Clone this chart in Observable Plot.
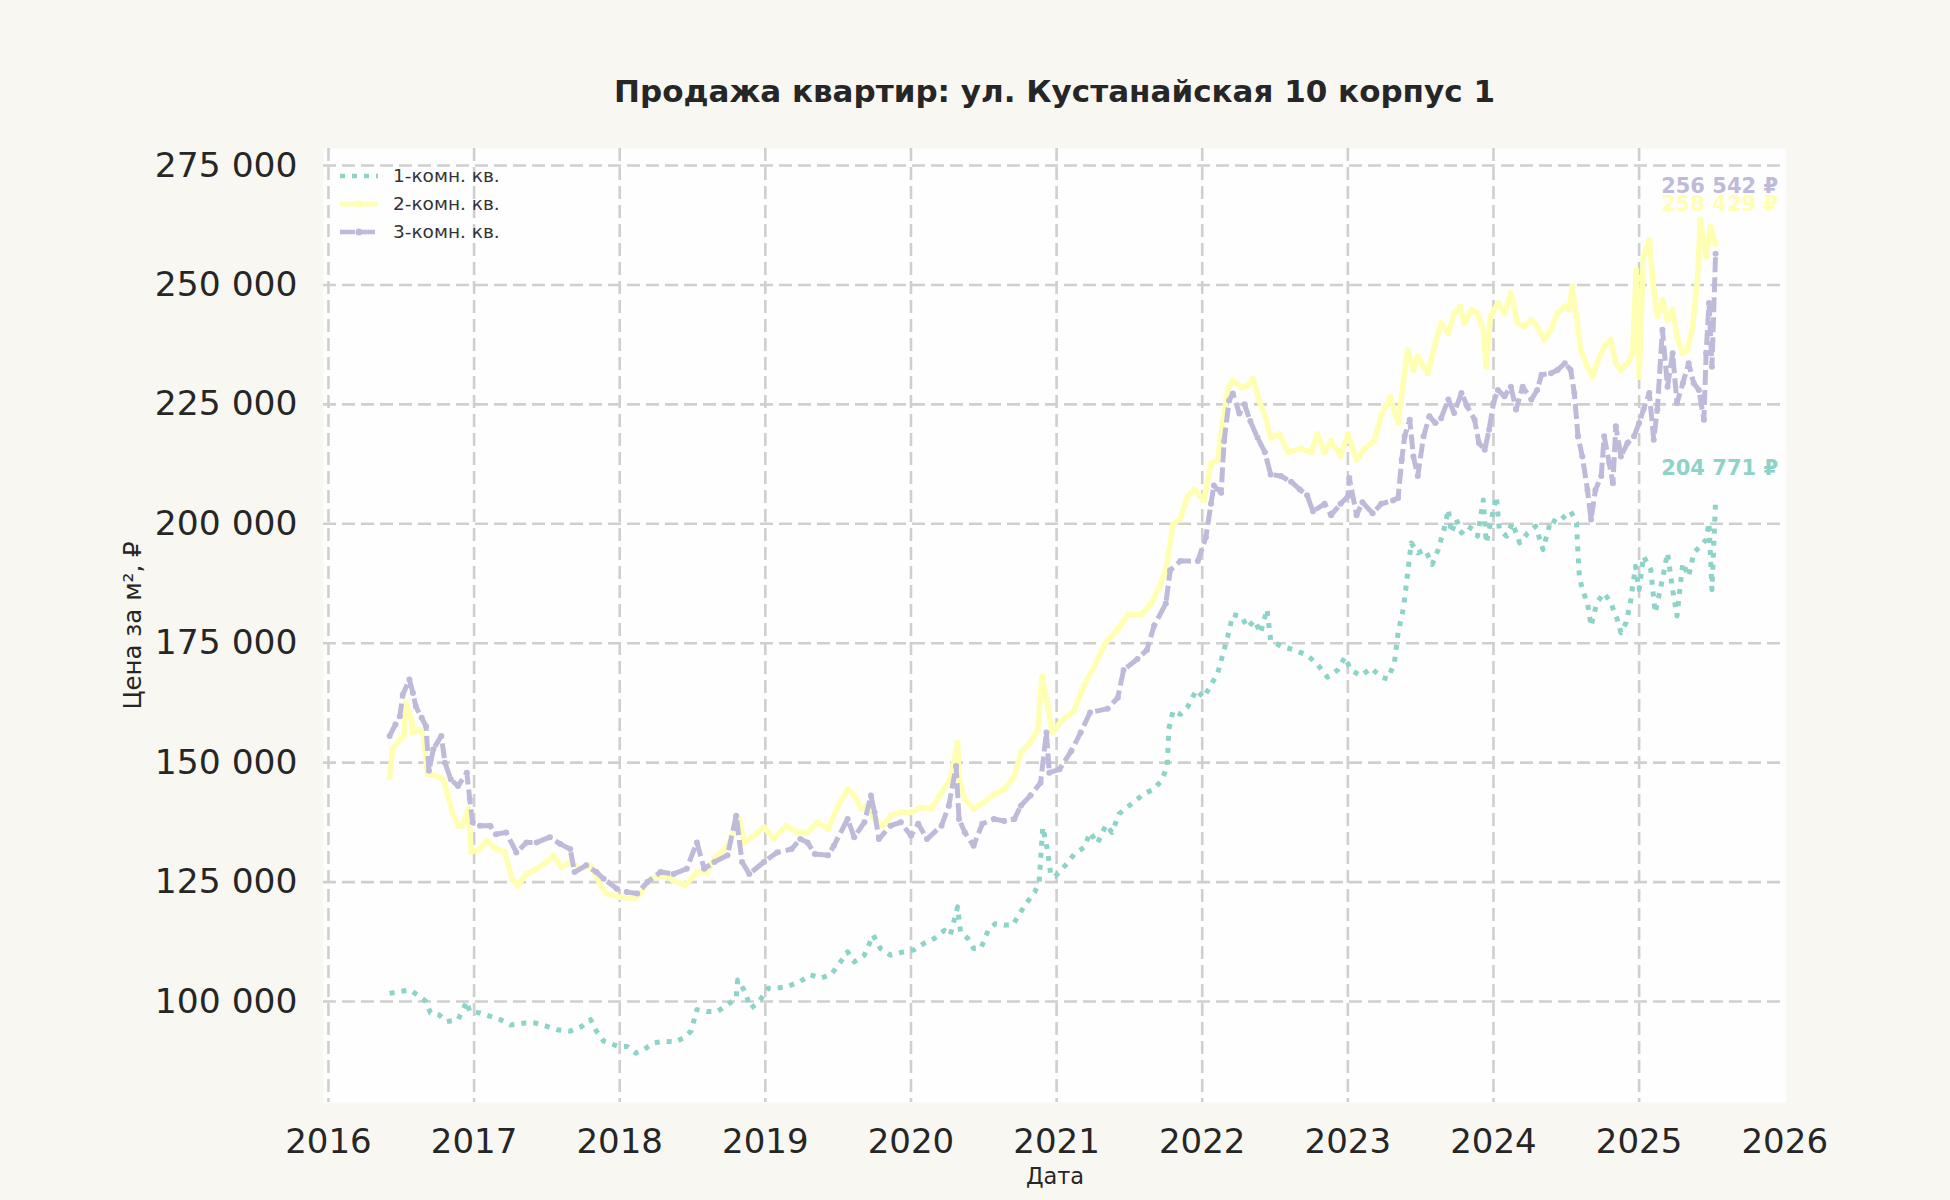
<!DOCTYPE html>
<html>
<head>
<meta charset="utf-8">
<script src="https://cdn.jsdelivr.net/npm/d3@7"></script>
<script src="https://cdn.jsdelivr.net/npm/@observablehq/plot@0.6"></script>
<style>
  html, body { margin: 0; padding: 0; background: #f8f7f2; }
  #wrap { position: relative; width: 1950px; height: 1200px; font-family: "DejaVu Sans", sans-serif; }
  #title { position: absolute; left: 323px; width: 1463px; top: 73px; line-height: 36px; text-align: center;
           font-size: 31px; font-weight: bold; color: #262626; }
  #chart { position: absolute; left: 0; top: 0; }
  #legend { position: absolute; left: 0; top: 0; pointer-events: none; }
</style>
</head>
<body>
<div id="wrap">
  <div id="chart"></div>
  <div id="title">Продажа квартир: ул. Кустанайская 10 корпус 1</div>
  <div id="legend"></div>
</div>
<script>
const titleText = "Продажа квартир: ул. Кустанайская 10 корпус 1";
const seriesNames = ["1-комн. кв.", "2-комн. кв.", "3-комн. кв."];
const seriesColors = ["#8dd3c7", "#ffffb3", "#bebada"];
const xTicks = [2016, 2017, 2018, 2019, 2020, 2021, 2022, 2023, 2024, 2025, 2026];
const yTicks = [100000, 125000, 150000, 175000, 200000, 225000, 250000, 275000];
const yLabel = "Цена за м², ₽";
const xLabel = "Дата";

// 1-комн. кв. — time (decimal year) and price per m² (thousand ₽)
const room1Years = [2016.42,2016.49,2016.56,2016.61,2016.67,2016.70,2016.76,2016.81,2016.89,2016.95,2016.97,
2017.04,2017.11,2017.18,2017.25,2017.35,2017.42,2017.50,2017.57,2017.66,2017.74,2017.80,2017.84,2017.89,2017.99,
2018.05,2018.11,2018.165,2018.23,2018.30,2018.38,2018.44,2018.49,2018.53,2018.60,2018.67,2018.74,2018.80,2018.81,2018.86,2018.90,2018.95,
2019.02,2019.08,2019.15,2019.24,2019.31,2019.38,2019.45,2019.50,2019.565,2019.61,2019.68,2019.74,2019.79,2019.86,2019.95,
2020.02,2020.09,2020.16,2020.23,2020.27,2020.32,2020.34,2020.39,2020.43,2020.48,2020.53,2020.58,2020.64,2020.70,2020.74,2020.79,2020.85,2020.88,2020.905,2020.94,2020.96,2020.99,
2021.06,2021.12,2021.19,2021.23,2021.28,2021.34,2021.38,2021.43,2021.49,2021.54,2021.60,2021.66,2021.72,2021.76,2021.77,2021.80,2021.85,2021.90,2021.96,
2022.01,2022.06,2022.105,2022.14,2022.175,2022.21,2022.27,2022.31,2022.36,2022.40,2022.445,2022.47,2022.54,2022.63,2022.72,2022.79,2022.86,2022.93,2022.98,
2023.02,2023.09,2023.16,2023.23,2023.275,2023.32,2023.345,2023.38,2023.40,2023.435,2023.48,2023.53,2023.58,2023.62,2023.66,2023.69,2023.71,2023.745,2023.78,2023.82,2023.86,2023.89,2023.93,2023.95,2023.98,
2024.02,2024.04,2024.09,2024.13,2024.18,2024.235,2024.29,2024.34,2024.395,2024.44,2024.49,2024.53,2024.57,2024.58,2024.59,2024.61,2024.645,2024.67,2024.71,2024.76,2024.805,2024.85,2024.875,2024.91,2024.94,2024.975,
2025.0,2025.03,2025.08,2025.11,2025.15,2025.195,2025.23,2025.26,2025.30,2025.34,2025.375,2025.42,2025.46,2025.48,2025.50,2025.525];
const room1Values = [101.7,102.1,102.4,101.4,100.0,97.6,97.2,95.8,96.2,100.0,97.9,
97.6,96.9,96.2,95.1,95.5,95.5,94.8,94.1,93.8,94.8,96.2,93.8,91.7,90.6,
90.6,89.2,89.9,91.3,91.7,91.5,92.4,93.8,98.3,97.9,97.9,99.3,100.7,104.5,102.1,98.6,99.7,
102.8,102.8,103.1,104.2,105.6,104.9,105.6,107.6,110.4,108.3,109.7,113.9,111.1,109.7,110.4,
110.8,112.2,113.2,114.9,113.9,119.8,114.6,113.2,111.1,111.1,114.9,116.3,116.0,116.0,118.1,120.5,122.9,125.0,136.5,131.3,126.4,126.2,
128.5,130.8,132.3,135.4,133.1,137.0,135.4,139.3,140.8,142.0,143.5,144.3,146.2,149.3,157.0,160.9,160.1,161.7,165.2,
163.6,166.3,168.6,172.5,176.4,181.0,180.6,178.3,179.8,177.1,182.1,175.6,174.4,173.6,172.5,170.6,167.9,169.4,172.1,
169.4,168.2,169.8,167.9,167.5,171.0,177.2,182.1,186.9,196.0,193.9,194.6,191.5,194.6,198.8,203.0,198.1,200.9,198.1,199.5,198.8,197.4,205.0,196.0,200.2,
205.7,198.8,197.4,200.2,196.0,198.1,199.5,194.6,200.9,200.2,201.6,202.6,200.2,193.9,189.0,186.2,183.5,178.6,183.5,185.5,183.5,180.0,177.2,179.3,183.5,191.1,
186.2,193.2,190.4,181.4,186.9,193.9,186.2,180.7,191.8,189.0,193.9,195.3,196.7,200.2,186.2,204.771];

// 2-комн. кв.
const room2Years = [2016.42,2016.44,2016.49,2016.52,2016.53,2016.57,2016.58,2016.625,2016.65,2016.68,2016.74,2016.79,2016.82,2016.85,2016.89,2016.92,2016.96,2016.98,
2017.04,2017.085,2017.15,2017.21,2017.26,2017.30,2017.36,2017.43,2017.50,2017.545,2017.60,2017.66,2017.73,2017.80,2017.87,2017.91,2017.99,
2018.10,2018.15,2018.21,2018.30,2018.37,2018.45,2018.53,2018.60,2018.65,2018.74,2018.82,2018.855,2018.92,2018.99,
2019.06,2019.14,2019.22,2019.29,2019.36,2019.43,2019.50,2019.565,2019.61,2019.66,2019.70,2019.75,2019.81,2019.86,2019.93,
2020.0,2020.07,2020.14,2020.21,2020.27,2020.32,2020.33,2020.37,2020.43,2020.50,2020.57,2020.64,2020.71,2020.755,2020.82,2020.87,2020.90,2020.94,2020.97,
2021.03,2021.12,2021.19,2021.26,2021.33,2021.42,2021.49,2021.58,2021.65,2021.70,2021.75,2021.80,2021.85,2021.90,2021.945,
2022.01,2022.06,2022.105,2022.14,2022.175,2022.21,2022.27,2022.31,2022.35,2022.39,2022.44,2022.47,2022.53,2022.59,2022.68,2022.75,2022.79,2022.84,2022.885,2022.95,
2023.0,2023.06,2023.115,2023.18,2023.23,2023.29,2023.345,2023.38,2023.41,2023.45,2023.48,2023.52,2023.55,2023.60,2023.64,2023.69,2023.73,2023.77,2023.80,2023.85,2023.89,2023.93,2023.95,2023.98,
2024.03,2024.075,2024.12,2024.165,2024.21,2024.26,2024.30,2024.35,2024.395,2024.44,2024.49,2024.52,2024.54,2024.57,2024.60,2024.645,2024.68,2024.71,2024.76,2024.805,2024.84,2024.875,2024.92,2024.955,2024.98,
2025.0,2025.03,2025.07,2025.10,2025.125,2025.16,2025.195,2025.23,2025.26,2025.30,2025.33,2025.365,2025.40,2025.42,2025.46,2025.49,2025.525];
const room2Values = [146.9,152.8,154.9,155.6,162.5,159.0,156.3,156.9,155.9,147.6,147.2,146.5,143.1,139.6,136.8,136.8,140.3,131.3,
131.9,133.7,131.9,131.3,125.7,124.3,126.7,127.8,129.2,130.6,128.1,129.2,127.8,128.5,124.3,122.6,121.9,
121.5,122.9,125.7,126.4,125.3,124.3,127.1,127.1,129.9,132.6,138.2,133.3,134.7,136.5,
134.0,136.8,135.4,135.4,137.5,136.1,141.0,144.4,143.1,140.3,141.0,138.2,136.8,138.9,139.6,
139.6,140.6,140.3,143.8,146.5,154.2,146.5,142.4,140.3,141.7,143.4,144.4,147.2,152.1,154.2,156.9,168.1,161.8,156.3,
158.6,160.9,166.3,170.2,174.8,177.9,181.0,181.0,183.3,186.4,190.3,199.9,201.1,205.7,207.2,
204.9,212.6,213.4,221.1,228.1,230.0,228.5,228.9,230.4,225.8,221.9,218.0,218.8,215.0,215.7,215.0,218.8,215.0,217.3,214.2,
218.8,213.4,215.7,217.3,222.7,226.5,221.1,229.4,236.4,232.2,235.0,232.9,231.5,237.8,242.0,239.9,244.1,245.5,242.0,244.8,244.1,240.6,232.9,243.4,
246.2,244.1,248.3,242.0,241.3,242.7,241.3,238.5,240.6,244.1,245.5,244.8,249.7,243.4,236.4,232.9,230.8,233.6,237.1,238.5,233.6,232.2,233.6,235.7,253.1,
230.8,255.9,259.4,249.0,243.4,246.9,242.7,244.8,239.2,235.7,236.4,240.6,251.0,263.6,255.9,262.2,258.429];

// 3-комн. кв.
const room3Years = [2016.42,2016.46,2016.49,2016.51,2016.556,2016.58,2016.60,2016.64,2016.67,2016.69,2016.72,2016.775,2016.80,2016.84,2016.89,2016.95,2016.97,2016.99,
2017.04,2017.11,2017.15,2017.22,2017.29,2017.36,2017.43,2017.52,2017.59,2017.66,2017.69,2017.77,2017.84,2017.89,2017.98,
2018.05,2018.12,2018.19,2018.28,2018.37,2018.46,2018.53,2018.58,2018.65,2018.74,2018.80,2018.84,2018.89,2018.99,
2019.08,2019.18,2019.24,2019.29,2019.34,2019.43,2019.47,2019.565,2019.61,2019.68,2019.725,2019.75,2019.78,2019.86,2019.93,
2020.0,2020.05,2020.11,2020.21,2020.26,2020.31,2020.33,2020.37,2020.43,2020.49,2020.57,2020.64,2020.71,2020.755,2020.82,2020.89,2020.93,2020.95,
2021.02,2021.10,2021.165,2021.23,2021.35,2021.42,2021.46,2021.555,2021.62,2021.67,2021.75,2021.78,2021.85,2021.97,
2022.025,2022.06,2022.08,2022.13,2022.15,2022.185,2022.21,2022.255,2022.29,2022.33,2022.38,2022.43,2022.47,2022.54,2022.61,2022.67,2022.72,2022.76,2022.84,2022.885,2022.95,
2023.0,2023.01,2023.06,2023.10,2023.17,2023.23,2023.31,2023.345,2023.37,2023.39,2023.425,2023.45,2023.48,2023.52,2023.56,2023.60,2023.64,2023.69,2023.73,2023.78,2023.82,2023.87,2023.90,2023.94,2023.97,
2024.0,2024.03,2024.075,2024.12,2024.155,2024.2,2024.26,2024.30,2024.33,2024.395,2024.44,2024.49,2024.53,2024.555,2024.58,2024.61,2024.645,2024.67,2024.70,2024.74,2024.76,2024.795,2024.82,2024.84,2024.875,2024.92,2024.965,
2025.0,2025.03,2025.07,2025.10,2025.125,2025.16,2025.195,2025.23,2025.26,2025.30,2025.34,2025.375,2025.41,2025.445,2025.46,2025.48,2025.50,2025.525];
const room3Values = [155.6,158.0,159.7,164.2,167.4,164.6,161.8,159.4,157.6,148.3,152.8,155.6,150.0,146.5,145.1,147.9,142.4,137.5,
136.8,136.8,135.0,135.4,131.2,133.3,133.3,134.4,133.0,131.9,127.1,128.5,127.1,125.7,123.6,
122.9,122.6,125.0,127.1,126.7,127.8,133.3,127.8,129.2,130.6,138.9,129.2,126.7,129.2,
131.2,131.9,134.0,133.3,130.9,130.6,132.6,138.2,134.4,137.5,143.1,139.6,134.0,136.8,137.5,
134.7,137.2,134.0,136.8,141.0,149.3,138.2,135.4,132.6,137.2,138.2,137.8,138.2,141.0,143.1,145.8,156.3,147.9,
148.6,152.4,156.3,160.5,161.3,163.6,169.4,171.7,173.6,178.7,183.3,190.3,192.2,192.2,
197.2,204.2,208.0,206.5,217.3,225.8,227.3,223.1,225.0,221.5,218.0,215.0,210.3,210.0,208.8,207.2,206.0,202.6,204.2,201.8,204.2,
205.7,209.6,201.8,204.5,202.2,204.2,204.9,205.4,213.4,218.3,221.8,214.1,210.0,218.3,222.5,221.1,222.1,226.0,223.2,227.4,224.6,221.8,216.9,215.5,219.7,
225.3,228.0,226.7,228.7,223.9,228.7,226.0,228.0,231.2,231.5,232.2,233.6,232.2,227.4,218.3,214.1,207.1,200.9,207.1,210.0,218.3,212.7,208.5,220.4,214.1,216.9,218.3,
221.1,223.9,227.4,217.6,223.9,240.6,228.7,235.7,225.3,229.4,233.6,229.4,228.0,221.8,235.7,246.2,232.9,256.542];

const seriesYears = [room1Years, room2Years, room3Years];
const seriesValues = [room1Values, room2Values, room3Values];

// Build long table
const rows = [];
seriesNames.forEach((name, i) => {
  seriesYears[i].forEach((t, j) => rows.push({series: name, t, price: seriesValues[i][j] * 1000}));
});
const byName = name => rows.filter(d => d.series === name);
const lastOf = name => { const r = byName(name); return r[r.length - 1]; };

const locale = d3.formatLocale({decimal: ",", thousands: " ", grouping: [3], currency: ["", " ₽"]});
const fmt = locale.format(",d");

const styles = {
  "1-комн. кв.": {strokeDasharray: "5,7", strokeWidth: 5, dots: false, labelDy: -33},
  "2-комн. кв.": {strokeDasharray: null, strokeWidth: 5.5, dots: true, labelDy: -40},
  "3-комн. кв.": {strokeDasharray: "15,5", strokeWidth: 5, dots: true, labelDy: -67}
};

const marks = [
  Plot.frame({fill: "#fefefe", stroke: null}),
  Plot.gridX([2016,2017,2018,2019,2020,2021,2022,2023,2024,2025], {stroke: "#cfcfcf", strokeOpacity: 1, strokeWidth: 2.6, strokeDasharray: "13,6"}),
  Plot.gridY(yTicks, {stroke: "#cfcfcf", strokeOpacity: 1, strokeWidth: 2.6, strokeDasharray: "13,6"}),
  Plot.axisY({ticks: yTicks, tickFormat: fmt, tickSize: 0, tickPadding: 26, fontSize: 34.5, fill: "#262626", label: null}),
  Plot.axisX({ticks: xTicks, tickFormat: d => String(d), tickSize: 0, tickPadding: 26, fontSize: 34, fill: "#262626", label: null}),
  Plot.text([yLabel], {text: d => d, frameAnchor: "left", textAnchor: "middle", lineAnchor: "middle", dx: -190, rotate: -90, fontSize: 24.5, fill: "#262626"}),
  Plot.text([xLabel], {text: d => d, frameAnchor: "bottom", dy: 81, fontSize: 22.5, fill: "#262626"})
];

seriesNames.forEach((name, i) => {
  const s = styles[name];
  marks.push(Plot.line(byName(name), {x: "t", y: "price", stroke: seriesColors[i], strokeWidth: s.strokeWidth,
    strokeDasharray: s.strokeDasharray, strokeLinejoin: "round", strokeLinecap: "butt"}));
  if (s.dots) marks.push(Plot.dot(byName(name), {x: "t", y: "price", r: 3, fill: seriesColors[i], stroke: null}));
});
seriesNames.forEach((name, i) => {
  const s = styles[name];
  marks.push(Plot.text([lastOf(name)], {x: "t", y: "price", text: d => fmt(Math.round(d.price)) + " ₽",
    fill: seriesColors[i], fontWeight: "bold", fontSize: 21, dx: 4, dy: s.labelDy, textAnchor: "middle"}));
});

const chart = Plot.plot({
  width: 1950, height: 1200,
  marginLeft: 323, marginRight: 164, marginTop: 148, marginBottom: 98,
  style: {background: "transparent", fontFamily: "DejaVu Sans", fontSize: "33px", color: "#262626"},
  x: {type: "linear", domain: [2015.966, 2026.012]},
  y: {domain: [78860, 278560]},
  marks
});
document.getElementById("chart").appendChild(chart);

// Legend (top-left inside plot area)
const legendRows = [176, 204, 232];
const ns = "http://www.w3.org/2000/svg";
const lg = document.createElementNS(ns, "svg");
lg.setAttribute("width", 1950); lg.setAttribute("height", 300);
lg.style.fontFamily = "DejaVu Sans";
seriesNames.forEach((name, i) => {
  const s = styles[name];
  const y = legendRows[i];
  const ln = document.createElementNS(ns, "line");
  ln.setAttribute("x1", 340); ln.setAttribute("x2", 378); ln.setAttribute("y1", y); ln.setAttribute("y2", y);
  ln.setAttribute("stroke", seriesColors[i]); ln.setAttribute("stroke-width", s.strokeWidth - 0.5);
  if (s.strokeDasharray) ln.setAttribute("stroke-dasharray", s.strokeDasharray);
  lg.appendChild(ln);
  if (s.dots) {
    const c = document.createElementNS(ns, "circle");
    c.setAttribute("cx", 359); c.setAttribute("cy", y); c.setAttribute("r", 3.5); c.setAttribute("fill", seriesColors[i]);
    lg.appendChild(c);
  }
  const tx = document.createElementNS(ns, "text");
  tx.setAttribute("x", 393); tx.setAttribute("y", y); tx.setAttribute("dy", "0.35em");
  tx.setAttribute("font-size", "18.5px"); tx.setAttribute("fill", "#333333");
  tx.textContent = name;
  lg.appendChild(tx);
});
document.getElementById("legend").appendChild(lg);
</script>
</body>
</html>
